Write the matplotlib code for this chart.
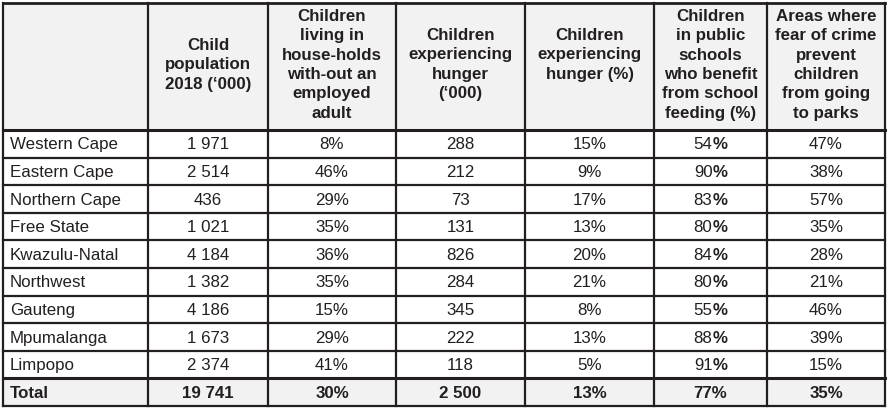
import matplotlib.pyplot as plt
from matplotlib.patches import Rectangle

plt.rcParams['font.family'] = ['Liberation Sans', 'DejaVu Sans']

# data
provinces = ['Western Cape', 'Eastern Cape', 'Northern Cape', 'Free State',
             'Kwazulu-Natal', 'Northwest', 'Gauteng', 'Mpumalanga', 'Limpopo']
child_pop = ['1 971', '2 514', '436', '1 021', '4 184', '1 382', '4 186', '1 673', '2 374']
no_employed = [8, 46, 29, 35, 36, 35, 15, 29, 41]
hunger_000 = [288, 212, 73, 131, 826, 284, 345, 222, 118]
hunger_pct = [15, 9, 17, 13, 20, 21, 8, 13, 5]
school_feeding = [54, 90, 83, 80, 84, 80, 55, 88, 91]
fear_parks = [47, 38, 57, 35, 28, 21, 46, 39, 15]
total_row = ['Total', '19 741', '30%', '2 500', '13%', '77%', '35%']

headers = [
    '',
    'Child\npopulation\n2018 (\u2018000)',
    'Children\nliving in\nhouse-holds\nwith-out an\nemployed\nadult',
    'Children\nexperiencing\nhunger\n(\u2018000)',
    'Children\nexperiencing\nhunger (%)',
    'Children\nin public\nschools\nwho benefit\nfrom school\nfeeding (%)',
    'Areas where\nfear of crime\nprevent\nchildren\nfrom going\nto parks',
]
header_top = [0, 46, 17, 36, 36, 17, 17]

# layout (pixels)
col_edges = [3, 148, 268, 396, 525, 654, 767, 885]
top, head_bot, bottom = 3, 130, 406
n_rows = len(provinces) + 1
row_h = (bottom - head_bot) / n_rows
grey = '#f2f2f2'
ink = '#231f20'
fs = 12.2
em = fs * 100 / 72  # font size in pixels

fig = plt.figure(figsize=(8.9, 4.11), dpi=100)
ax = fig.add_axes([0, 0, 1, 1])
ax.set_xlim(0, 890)
ax.set_ylim(411, 0)
ax.axis('off')

# backgrounds
ax.add_patch(Rectangle((col_edges[0], top), col_edges[-1] - col_edges[0], head_bot - top,
                       facecolor=grey, edgecolor='none'))
ax.add_patch(Rectangle((col_edges[0], bottom - row_h), col_edges[-1] - col_edges[0], row_h,
                       facecolor=grey, edgecolor='none'))

# header text
for j in range(1, 7):
    cx = (col_edges[j] + col_edges[j + 1]) / 2
    ax.text(cx, header_top[j] - 8, headers[j], ha='center', va='top', fontsize=fs,
            fontweight='bold', color=ink, linespacing=1.36)

# body
rows = []
for i in range(len(provinces)):
    rows.append([provinces[i], child_pop[i], f'{no_employed[i]}%', str(hunger_000[i]),
                 f'{hunger_pct[i]}%', None, f'{fear_parks[i]}%'])
for i, row in enumerate(rows + [total_row]):
    cy = head_bot + (i + 0.5) * row_h + 1
    bold = i == len(rows)
    for j, val in enumerate(row):
        cx = (col_edges[j] + col_edges[j + 1]) / 2
        if val is None:
            # number in regular weight, % sign in bold
            num = str(school_feeding[i])
            x0 = cx + (len(num) * 0.556 - 0.889) / 2 * em
            ax.text(x0, cy, num, ha='right', va='center', fontsize=fs, color=ink)
            ax.text(x0, cy, '%', ha='left', va='center', fontsize=fs, color=ink,
                    fontweight='bold')
            continue
        if j == 0:
            x, ha = col_edges[0] + 7, 'left'
        else:
            x, ha = cx, 'center'
        ax.text(x, cy, val, ha=ha, va='center', fontsize=fs, color=ink,
                fontweight='bold' if bold else 'normal')

# grid lines
for x in col_edges:
    ax.plot([x, x], [top, bottom], color=ink, lw=1.6, solid_capstyle='projecting')
for i in range(n_rows + 1):
    y = head_bot + i * row_h
    lw = 2.2 if i in (0, n_rows - 1) else 1.6
    ax.plot([col_edges[0], col_edges[-1]], [y, y], color=ink, lw=lw, solid_capstyle='projecting')
ax.plot([col_edges[0], col_edges[-1]], [top, top], color=ink, lw=2.0, solid_capstyle='projecting')

fig.savefig('out.png', dpi=100)
